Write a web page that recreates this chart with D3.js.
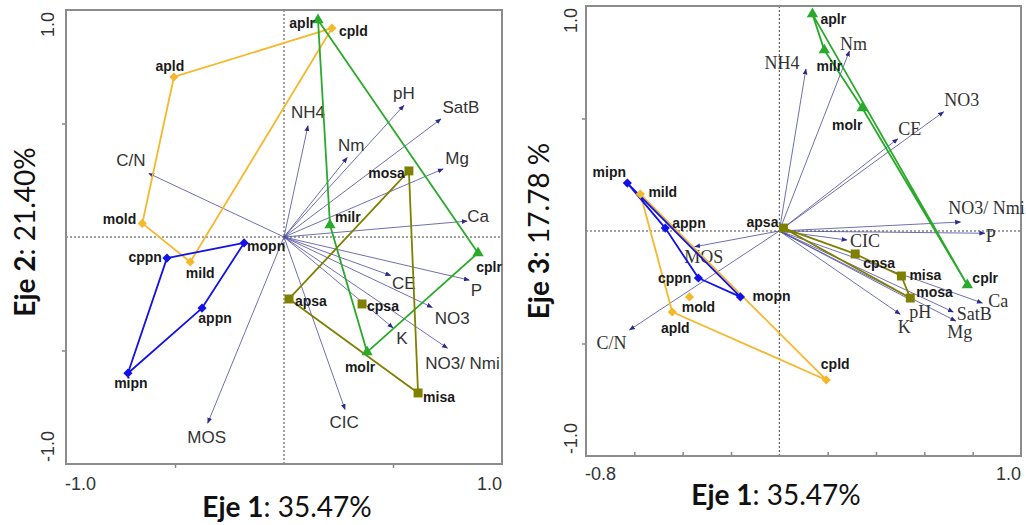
<!DOCTYPE html>
<html>
<head>
<meta charset="utf-8">
<script src="https://cdn.jsdelivr.net/npm/d3@7"></script>
<style>
body { margin: 0; background: #fff; }
svg { display: block; }
</style>
</head>
<body>
<svg id="chart" width="1026" height="525"></svg>
<script>
// variables del suelo (vectores)
let variables = ['C/N', 'NH4', 'Nm', 'pH', 'SatB', 'Mg', 'Ca', 'CE', 'P', 'NO3', 'K', 'NO3/ Nmi', 'CIC', 'MOS']
let varEje1 = [-0.62, 0.11, 0.29, 0.55, 0.72, 0.73, 0.84, 0.49, 0.85, 0.68, 0.50, 0.75, 0.28, -0.35]
let varEje2 = [0.28, 0.49, 0.35, 0.58, 0.52, 0.30, 0.07, -0.17, -0.19, -0.31, -0.40, -0.49, -0.76, -0.82]
let varEje3 = [-0.44, 0.72, 0.80, -0.31, -0.36, -0.40, -0.32, 0.41, -0.01, 0.53, -0.37, 0.04, -0.04, -0.07]

// sitios
let sitios = ['apld', 'mold', 'mild', 'cpld', 'cppn', 'mopn', 'appn', 'mipn', 'aplr', 'milr', 'molr', 'cplr', 'mosa', 'apsa', 'cpsa', 'misa']
let grupoSitio = ['ld', 'ld', 'ld', 'ld', 'pn', 'pn', 'pn', 'pn', 'lr', 'lr', 'lr', 'lr', 'sa', 'sa', 'sa', 'sa']
// Eje 1 vs Eje 2
let sitEje1A = [-0.505, -0.65, -0.43, 0.22, -0.537, -0.183, -0.376, -0.716, 0.156, 0.211, 0.381, 0.89, 0.573, 0.023, 0.358, 0.615]
let sitEje2 = [0.705, 0.06, -0.11, 0.92, -0.093, -0.026, -0.313, -0.60, 0.956, 0.053, -0.507, -0.07, 0.291, -0.273, -0.295, -0.687]
// Eje 1 vs Eje 3
let sitEje1B = [-0.443, -0.372, -0.575, 0.194, -0.335, -0.161, -0.472, -0.629, 0.137, 0.186, 0.343, 0.778, 0.542, 0.017, 0.314, 0.505]
let sitEje3 = [-0.36, -0.293, 0.164, -0.662, -0.209, -0.293, 0.013, 0.213, 0.964, 0.804, 0.547, -0.24, -0.298, 0.013, -0.102, -0.20]

// contornos de cada grupo
let contornoA = { ld: ['apld', 'cpld', 'mild', 'mold'], pn: ['cppn', 'mopn', 'appn', 'mipn'], lr: ['aplr', 'milr', 'molr', 'cplr'], sa: ['mosa', 'apsa', 'misa'] }
let contornoB = { ld: ['mild', 'cpld', 'apld'], pn: ['mipn', 'appn', 'cppn', 'mopn'], lr: ['aplr', 'milr', 'molr', 'cplr'], sa: ['apsa', 'cpsa', 'misa', 'mosa'] }

let tickXA = ['-1.0', '1.0']
let tickXB = ['-0.8', '1.0']
let tickY = ['-1.0', '1.0']

// estilo de grupos
let colores = { ld: '#f5b82c', pn: '#1212e6', lr: '#2aaa2a', sa: '#7f7f00' }
let simbolos = { ld: 'diamond', pn: 'diamond', lr: 'triangle', sa: 'square' }

// posicion de etiquetas (dx, dy respecto a la punta / marcador)
let offVarA = [[-18, -13], [0, -13], [4, -12], [0, -12], [20, -11], [14, -10], [11, -5], [13, 8], [7, 10], [20, 11], [9, 11], [15, 15], [-1, 13], [-1, 14]]
let offVarB = [[-18, 13], [-24, -6], [4, -7], [8, 11], [21, 2], [4, 11], [16, -2], [12, -10], [6, 3], [18, -12], [4, 13], [26, -14], [18, 1], [9, 10]]
let offSitA = {
    apld: ['middle', -4, -11], cpld: ['start', 7, 3], mold: ['end', -6, -4], mild: ['middle', 10, 11],
    cppn: ['end', -5, -1], mopn: ['start', 3, 3], appn: ['middle', 13, 10], mipn: ['middle', 3, 10],
    aplr: ['end', -3, 3], milr: ['start', 5, -8], molr: ['middle', -7, 15], cplr: ['middle', 11, 14],
    mosa: ['end', -4, 2], apsa: ['start', 6, 2], cpsa: ['start', 5, 2], misa: ['start', 5, 4]
}
let offSitB = {
    apld: ['middle', 3, 16], mold: ['middle', 9, 10], mild: ['start', 8, -2], cpld: ['middle', 9, -16],
    mipn: ['middle', -18, -11], appn: ['start', 7, -5], cppn: ['end', -7, 0], mopn: ['start', 12, -1],
    aplr: ['start', 8, 5], milr: ['middle', 5, 16], molr: ['middle', -15, 17], cplr: ['start', 5, -7],
    apsa: ['end', -5, -6], cpsa: ['start', 8, 9], misa: ['start', 8, -1], mosa: ['start', 6, -6]
}

let svg = d3.select('#chart')

let defs = svg.append('defs')
defs.append('marker')
    .attr('id', 'flecha')
    .attr('viewBox', '0 0 10 10')
    .attr('refX', 9).attr('refY', 5)
    .attr('markerWidth', 6).attr('markerHeight', 6)
    .attr('markerUnits', 'userSpaceOnUse')
    .attr('orient', 'auto')
    .append('path')
    .attr('d', 'M0,1 L10,5 L0,9 Z')
    .attr('fill', '#2a2a8c')

let symbolPath = (tipo) => {
    if (tipo === 'triangle') return d3.symbol().type(d3.symbolTriangle).size(55)()
    if (tipo === 'square') return d3.symbol().type(d3.symbolSquare).size(80)()
    return d3.symbol().type(d3.symbolSquare).size(42)()
}

let drawPanel = (p) => {
    let x = d3.scaleLinear().domain(p.xDomain).range([p.left, p.right])
    let y = d3.scaleLinear().domain([-1, 1]).range([p.bottom, p.top])
    let g = svg.append('g')

    // lineas de referencia
    g.append('line')
        .attr('x1', x(0)).attr('x2', x(0)).attr('y1', p.top).attr('y2', p.bottom)
        .attr('stroke', '#444').attr('stroke-width', 1).attr('stroke-dasharray', '2,2')
    g.append('line')
        .attr('x1', p.left).attr('x2', p.right).attr('y1', y(0)).attr('y2', y(0))
        .attr('stroke', '#444').attr('stroke-width', 1).attr('stroke-dasharray', '2,2')

    // ejes
    let ax = g.append('g').attr('transform', `translate(0,${p.bottom})`)
        .call(d3.axisBottom(x).tickValues(p.xTicks).tickSize(p.tickSizeX).tickFormat(''))
    let ay = g.append('g').attr('transform', `translate(${p.left},0)`)
        .call(d3.axisLeft(y).tickValues([-0.5, 0.5]).tickSize(4).tickFormat(''))
    ;[ax, ay].forEach((a) => {
        a.select('.domain').remove()
        a.selectAll('line').attr('stroke', '#888').attr('stroke-width', 1.5)
    })

    g.append('rect')
        .attr('x', p.left).attr('y', p.top)
        .attr('width', p.right - p.left).attr('height', p.bottom - p.top)
        .attr('fill', 'none').attr('stroke', '#8c8c8c').attr('stroke-width', 2)

    // vectores
    g.selectAll('.vec')
        .data(variables)
        .enter()
        .append('line')
        .attr('class', 'vec')
        .attr('x1', x(0)).attr('y1', y(0))
        .attr('x2', (d, i) => x(p.vx[i]))
        .attr('y2', (d, i) => y(p.vy[i]))
        .attr('stroke', '#4a4a9e')
        .attr('stroke-width', 0.8)
        .attr('marker-end', 'url(#flecha)')

    g.selectAll('.vlab')
        .data(variables)
        .enter()
        .append('text')
        .attr('class', 'vlab')
        .attr('x', (d, i) => x(p.vx[i]) + p.offVar[i][0])
        .attr('y', (d, i) => y(p.vy[i]) + p.offVar[i][1])
        .attr('text-anchor', 'middle')
        .attr('dominant-baseline', 'central')
        .attr('font-family', p.varFont)
        .attr('font-size', p.varSize)
        .attr('fill', '#333')
        .text((d) => d)

    // contornos de grupo
    let pos = {}
    sitios.forEach((s, i) => { pos[s] = [x(p.sx[i]), y(p.sy[i])] })
    Object.keys(p.contornos).forEach((k) => {
        g.append('path')
            .attr('d', d3.line()(p.contornos[k].map((s) => pos[s])) + 'Z')
            .attr('fill', 'none')
            .attr('stroke', colores[k])
            .attr('stroke-width', 1.8)
            .attr('stroke-linejoin', 'round')
    })

    // marcadores
    g.selectAll('.sit')
        .data(sitios)
        .enter()
        .append('path')
        .attr('class', 'sit')
        .attr('d', (d, i) => symbolPath(simbolos[grupoSitio[i]]))
        .attr('transform', (d, i) => {
            let t = `translate(${pos[d][0]},${pos[d][1]})`
            return grupoSitio[i] === 'ld' || grupoSitio[i] === 'pn' ? t + ' rotate(45)' : t
        })
        .attr('fill', (d, i) => colores[grupoSitio[i]])

    g.selectAll('.slab')
        .data(sitios)
        .enter()
        .append('text')
        .attr('class', 'slab')
        .attr('x', (d) => pos[d][0] + p.offSit[d][1])
        .attr('y', (d) => pos[d][1] + p.offSit[d][2])
        .attr('text-anchor', (d) => p.offSit[d][0])
        .attr('dominant-baseline', 'central')
        .attr('font-family', '"Liberation Sans", Arial, sans-serif')
        .attr('font-weight', 'bold')
        .attr('font-size', 14)
        .attr('fill', '#1a1a1a')
        .text((d) => d)

    // etiquetas de escala
    let tk = g.append('g')
        .attr('font-family', '"Liberation Sans", Arial, sans-serif')
        .attr('font-size', 18)
        .attr('fill', '#333')
    tk.append('text').attr('x', p.left - 1).attr('y', p.bottom + p.tickLabY)
        .attr('text-anchor', 'start').text(p.xLabels[0])
    tk.append('text').attr('x', p.right).attr('y', p.bottom + p.tickLabY)
        .attr('text-anchor', 'end').text(p.xLabels[1])
    tk.append('text')
        .attr('transform', `translate(${p.left - p.yLabGap},${p.bottom - 2}) rotate(-90)`)
        .attr('text-anchor', 'start').text(tickY[0])
    tk.append('text')
        .attr('transform', `translate(${p.left - p.yLabGap},${p.top + 2}) rotate(-90)`)
        .attr('text-anchor', 'end').text(tickY[1])

    // titulos
    let tx = g.append('text')
        .attr('x', p.xTitle[0]).attr('y', p.xTitle[1])
        .attr('text-anchor', 'middle')
        .attr('font-family', 'Lato, "Open Sans", sans-serif')
        .attr('font-size', 28)
        .attr('fill', '#111')
    tx.append('tspan').attr('font-weight', 'bold').text('Eje 1')
    tx.append('tspan').text(': 35.47%')

    let ty = g.append('text')
        .attr('transform', `translate(${p.yTitle[0]},${p.yTitle[1]}) rotate(-90)`)
        .attr('text-anchor', 'middle')
        .attr('font-family', 'Lato, "Open Sans", sans-serif')
        .attr('font-size', 28)
        .attr('fill', '#111')
    ty.append('tspan').attr('font-weight', 'bold').text(p.yName)
    ty.append('tspan').text(p.yPct)
}

drawPanel({
    left: 66, right: 502, top: 10, bottom: 464,
    xDomain: [-1, 1], xTicks: [-0.5, 0.5], tickSizeX: 4,
    vx: varEje1, vy: varEje2, sx: sitEje1A, sy: sitEje2,
    contornos: contornoA, offVar: offVarA, offSit: offSitA,
    varFont: '"Liberation Sans", Arial, sans-serif', varSize: 17,
    xLabels: tickXA, tickLabY: 26, yLabGap: 12,
    xTitle: [287, 517], yTitle: [35, 232], yName: 'Eje 2', yPct: ': 21.40%'
})

drawPanel({
    left: 586, right: 1021, top: 6, bottom: 456,
    xDomain: [-0.8, 1], xTicks: [-0.6, -0.4, -0.2, 0.2, 0.4, 0.6, 0.8], tickSizeX: -4,
    vx: varEje1, vy: varEje3, sx: sitEje1B, sy: sitEje3,
    contornos: contornoB, offVar: offVarB, offSit: offSitB,
    varFont: '"Liberation Serif", "Times New Roman", serif', varSize: 18,
    xLabels: tickXB, tickLabY: 24, yLabGap: 9,
    xTitle: [776, 505], yTitle: [549, 231], yName: 'Eje 3', yPct: ': 17.78 %'
})
</script>
</body>
</html>
